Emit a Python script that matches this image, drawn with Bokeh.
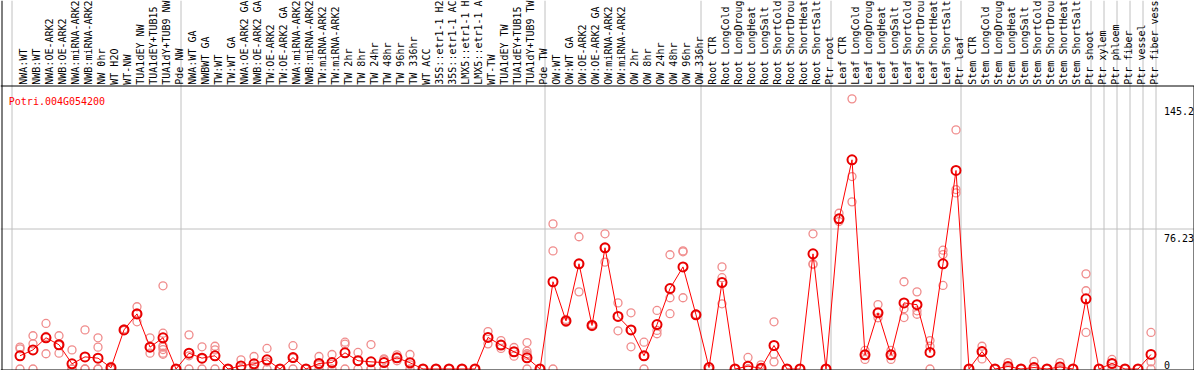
import math
from bokeh.plotting import figure
from bokeh.models import Range1d, Span
from bokeh.core.properties import value
from bokeh.embed import file_html
from bokeh.resources import INLINE

gene = "Potri.004G054200"

labels = [
    "NWA:WT", "NWB:WT", "NWA:OE-ARK2", "NWB:OE-ARK2", "NWA:miRNA-ARK2", "NWB:miRNA-ARK2",
    "NW 0hr", "WT H2O", "WT-NW", "TUA1dEY NW", "TUA1dEY+TUB15", "TUA1dY+TUB9 NW", "Pde NW",
    "NWA:WT GA", "NWBWT GA", "TW:WT", "TW:WT GA", "NWA:OE-ARK2 GA", "NWB:OE-ARK2 GA",
    "TW:OE-ARK2", "TW:OE-ARK2 GA", "NWA:miRNA-ARK2", "NWB:miRNA-ARK2", "TW:miRNA-ARK2",
    "TW:miRNA-ARK2", "TW 2hr", "TW 8hr", "TW 24hr", "TW 48hr", "TW 96hr", "TW 336hr",
    "WT ACC", "35S::etr1-1 H2", "35S::etr1-1 AC", "LMX5::etr1-1 H", "LMX5::etr1-1 A",
    "WT-TW", "TUA1dEY TW", "TUA1dEY+TUB15", "TUA1dY+TUB9 TW", "Pde TW",
    "OW:WT", "OW:WT GA", "OW:OE-ARK2", "OW:OE-ARK2 GA", "OW:miRNA-ARK2", "OW:miRNA-ARK2",
    "OW 2hr", "OW 8hr", "OW 24hr", "OW 48hr", "OW 96hr", "OW 336hr",
    "Root CTR", "Root LongCold", "Root LongDroug", "Root LongHeat", "Root LongSalt",
    "Root ShortCold", "Root ShortDrou", "Root ShortHeat", "Root ShortSalt", "Ptr root",
    "Leaf CTR", "Leaf LongCold", "Leaf LongDroug", "Leaf LongHeat", "Leaf LongSalt",
    "Leaf ShortCold", "Leaf ShortDrou", "Leaf ShortHeat", "Leaf ShortSalt", "Ptr leaf",
    "Stem CTR", "Stem LongCold", "Stem LongDroug", "Stem LongHeat", "Stem LongSalt",
    "Stem ShortCold", "Stem ShortDrou", "Stem ShortHeat", "Stem ShortSalt", "Ptr shoot",
    "Ptr xylem", "Ptr phloem", "Ptr fiber", "Ptr vessel", "Ptr fiber vess",
]

group_sizes = [13, 28, 12, 10, 10, 10, 1, 1, 1, 1, 1]

means = [
    7.2, 10.4, 17.0, 13.2, 2.8, 6.6, 5.9, 0.7, 21.3, 30.0, 11.9, 17.0, 0,
    8.6, 5.9, 7.2, 0, 1.7, 2.8, 5.0, 0, 6.2, 0, 3.0, 3.5, 8.8, 4.5, 3.9, 3.5, 6.1, 3.4,
    0, 0, 0, 0, 0, 17.2, 13.0, 9.4, 6.1, 0,
    47.5, 26.2, 57.3, 23.7, 66.0, 28.6, 21.3, 7.2, 24.2, 43.8, 55.6, 29.5,
    0.8, 47.1, 0, 1.5, 0.4, 12.8, 0, 0, 62.7, 0,
    81.8, 113.9, 7.7, 30.6, 7.7, 36.0, 35.0, 9.0, 57.3, 108.1,
    0, 9.5, 0, 1.4, 0, 0.8, 0, 1.1, 0, 38.2,
    0, 3.0, 0, 0, 7.9,
]

reps = [
    [11.9, 11.0, 0], [18.1, 13.7, 0], [24.8, 17.7, 8.3], [18.1, 12.9, 8.6], [10.4, 0, 0],
    [21.3, 0, 0], [17.0, 11.9, 0, 0], [1.4, 0, 0], [21.8, 21.0, 21.1], [33.9, 30.5, 25.7],
    [17.0, 11.9, 8.6], [45.3, 19.5, 12.7, 11.9, 10.6, 8.6, 8.0], [0, 0, 0],
    [18.6, 7.2, 0], [12.1, 5.6, 0], [12.4, 10.4, 0], [0, 0, 0], [5.0, 0, 0], [6.8, 1.6, 0],
    [11.2, 3.8, 0], [0, 0, 0], [12.7, 6.0, 0], [0, 0, 0], [6.8, 2.2, 0], [7.9, 2.6, 0],
    [14.6, 13.5, 0], [9.0, 4.5, 0], [13.3, 0, 0], [5.5, 5.0, 0], [7.7, 6.1, 4.5],
    [7.9, 2.3, 0], [0, 0, 0], [0, 0, 0], [0, 0, 0], [0, 0, 0], [0, 0, 0],
    [20.4, 17.2, 13.7], [15.5, 13.0, 11.2], [11.7, 9.4, 7.0], [14.4, 9.7, 8.3, 7.5, 0],
    [0, 0, 0],
    [79.0, 64.3, 0], [27.0, 26.2, 25.4], [72.0, 57.3, 42.0], [24.3, 23.7, 23.1],
    [73.6, 66.0, 58.2], [36.0, 28.6, 20.8], [30.6, 21.3, 12.1], [14.6, 7.0, 0],
    [31.9, 21.0, 19.2], [62.2, 38.8, 30.1], [64.3, 63.8, 38.8], [29.8, 29.5, 29.2],
    [1.2, 1.0, 0], [55.6, 49.7, 35.5], [0, 0, 0], [6.3, 0, 0], [2.3, 0, 0],
    [25.7, 8.1, 3.9], [0, 0, 0], [0, 0, 0], [73.6, 57.3, 56.9], [0, 0, 0],
    [84.8, 81.8, 80.3], [147.1, 104.8, 91.0], [10.1, 7.7, 5.2], [35.1, 30.6, 27.9],
    [10.1, 7.7, 5.2], [47.5, 32.8, 28.0], [42.0, 31.7, 29.8], [15.5, 12.4, 0],
    [64.7, 62.3, 45.5], [130.2, 97.7, 95.9],
    [0, 0, 0], [12.4, 9.5, 5.5], [0, 0, 0], [3.5, 0.8, 0], [0, 0, 0], [4.1, 0, 0],
    [0, 0, 0], [3.5, 0, 0], [0, 0, 0], [51.8, 42.6, 19.9],
    [0, 0, 0], [5.2, 3.0, 0], [0, 0, 0], [0, 0, 0], [19.9, 3.9, 0],
]

y_ticks = [145.2, 76.23, 0]
grid_values = [76.23]

# ---------------- layout (pixels) ----------------
W, H = 1194, 370
STEP = 13.0          # px between categories
X0 = 19.5            # px of first category
Y0 = 368.5           # px of value 0
SCALE = (Y0 - 228.5) / grid_values[0]   # px per unit


def xd(px):
    return (px - X0) / STEP


def yd(py):
    return (Y0 - py) / SCALE


def ypx(v):
    return Y0 - v * SCALE


FONT = value("DejaVu Sans Mono")
GRAY = "#c0c0c0"

p = figure(width=W, height=H, x_range=Range1d(xd(0), xd(W)), y_range=Range1d(yd(H), yd(0)),
           output_backend="svg", toolbar_location=None, x_axis_type=None, y_axis_type=None,
           min_border=0, outline_line_color=None)
p.grid.visible = False

# group separators
ends = [-1]
acc = 0
for g in group_sizes:
    acc += g
    ends.append(acc - 1)
for e in ends:
    p.add_layout(Span(location=e + 5.0 / STEP, dimension="height", line_color=GRAY,
                      line_width=1, level="underlay"))
for g in grid_values:
    p.add_layout(Span(location=g, dimension="width", line_color=GRAY, line_width=1,
                      level="underlay"))

n = len(labels)
xs = list(range(n))

# replicates
rx, ry = [], []
for i, rr in enumerate(reps):
    for v in rr:
        rx.append(i)
        ry.append(v)
p.scatter(rx, ry, marker="circle", size=8, fill_color=None, line_color="#f08c8c", line_width=1.3)

# mean line + markers
p.line(xs, means, line_color="#ff0000", line_width=1)
p.scatter(xs, means, marker="circle", size=9, fill_color=None, line_color="#e80000", line_width=2)

# frame lines
p.add_layout(Span(location=xd(1.5), dimension="height", line_color="black", line_width=1))
p.add_layout(Span(location=yd(85.5), dimension="width", line_color="black", line_width=1))
p.add_layout(Span(location=yd(369.5), dimension="width", line_color="black", line_width=1))
p.segment(x0=[xd(1193.5)], y0=[yd(85.5)], x1=[xd(1193.5)], y1=[yd(H)], line_color="black",
          line_width=1)

# category labels (vertical, reading upwards)
p.text(x=[k + 3.0 / STEP for k in xs], y=[yd(84.2)] * n, text=labels, angle=math.pi / 2,
       text_font=FONT, text_font_size="10px", text_align="left", text_baseline="alphabetic",
       text_color="black")

# gene name
p.text(x=[xd(8.3)], y=[yd(101)], text=[gene], text_font=FONT, text_font_size="10px",
       text_align="left", text_baseline="alphabetic", text_color="#ff0000")

# value ticks on the right
tx = [xd(1163.5)] * len(y_ticks)
ty = [yd(min(ypx(t) + 8.5, 364.5)) for t in y_ticks]
p.text(x=tx, y=ty, text=[str(t) for t in y_ticks], text_font=FONT, text_font_size="10px",
       text_align="left", text_baseline="alphabetic", text_color="black")

open("out.html", "w").write(file_html(p, INLINE))
